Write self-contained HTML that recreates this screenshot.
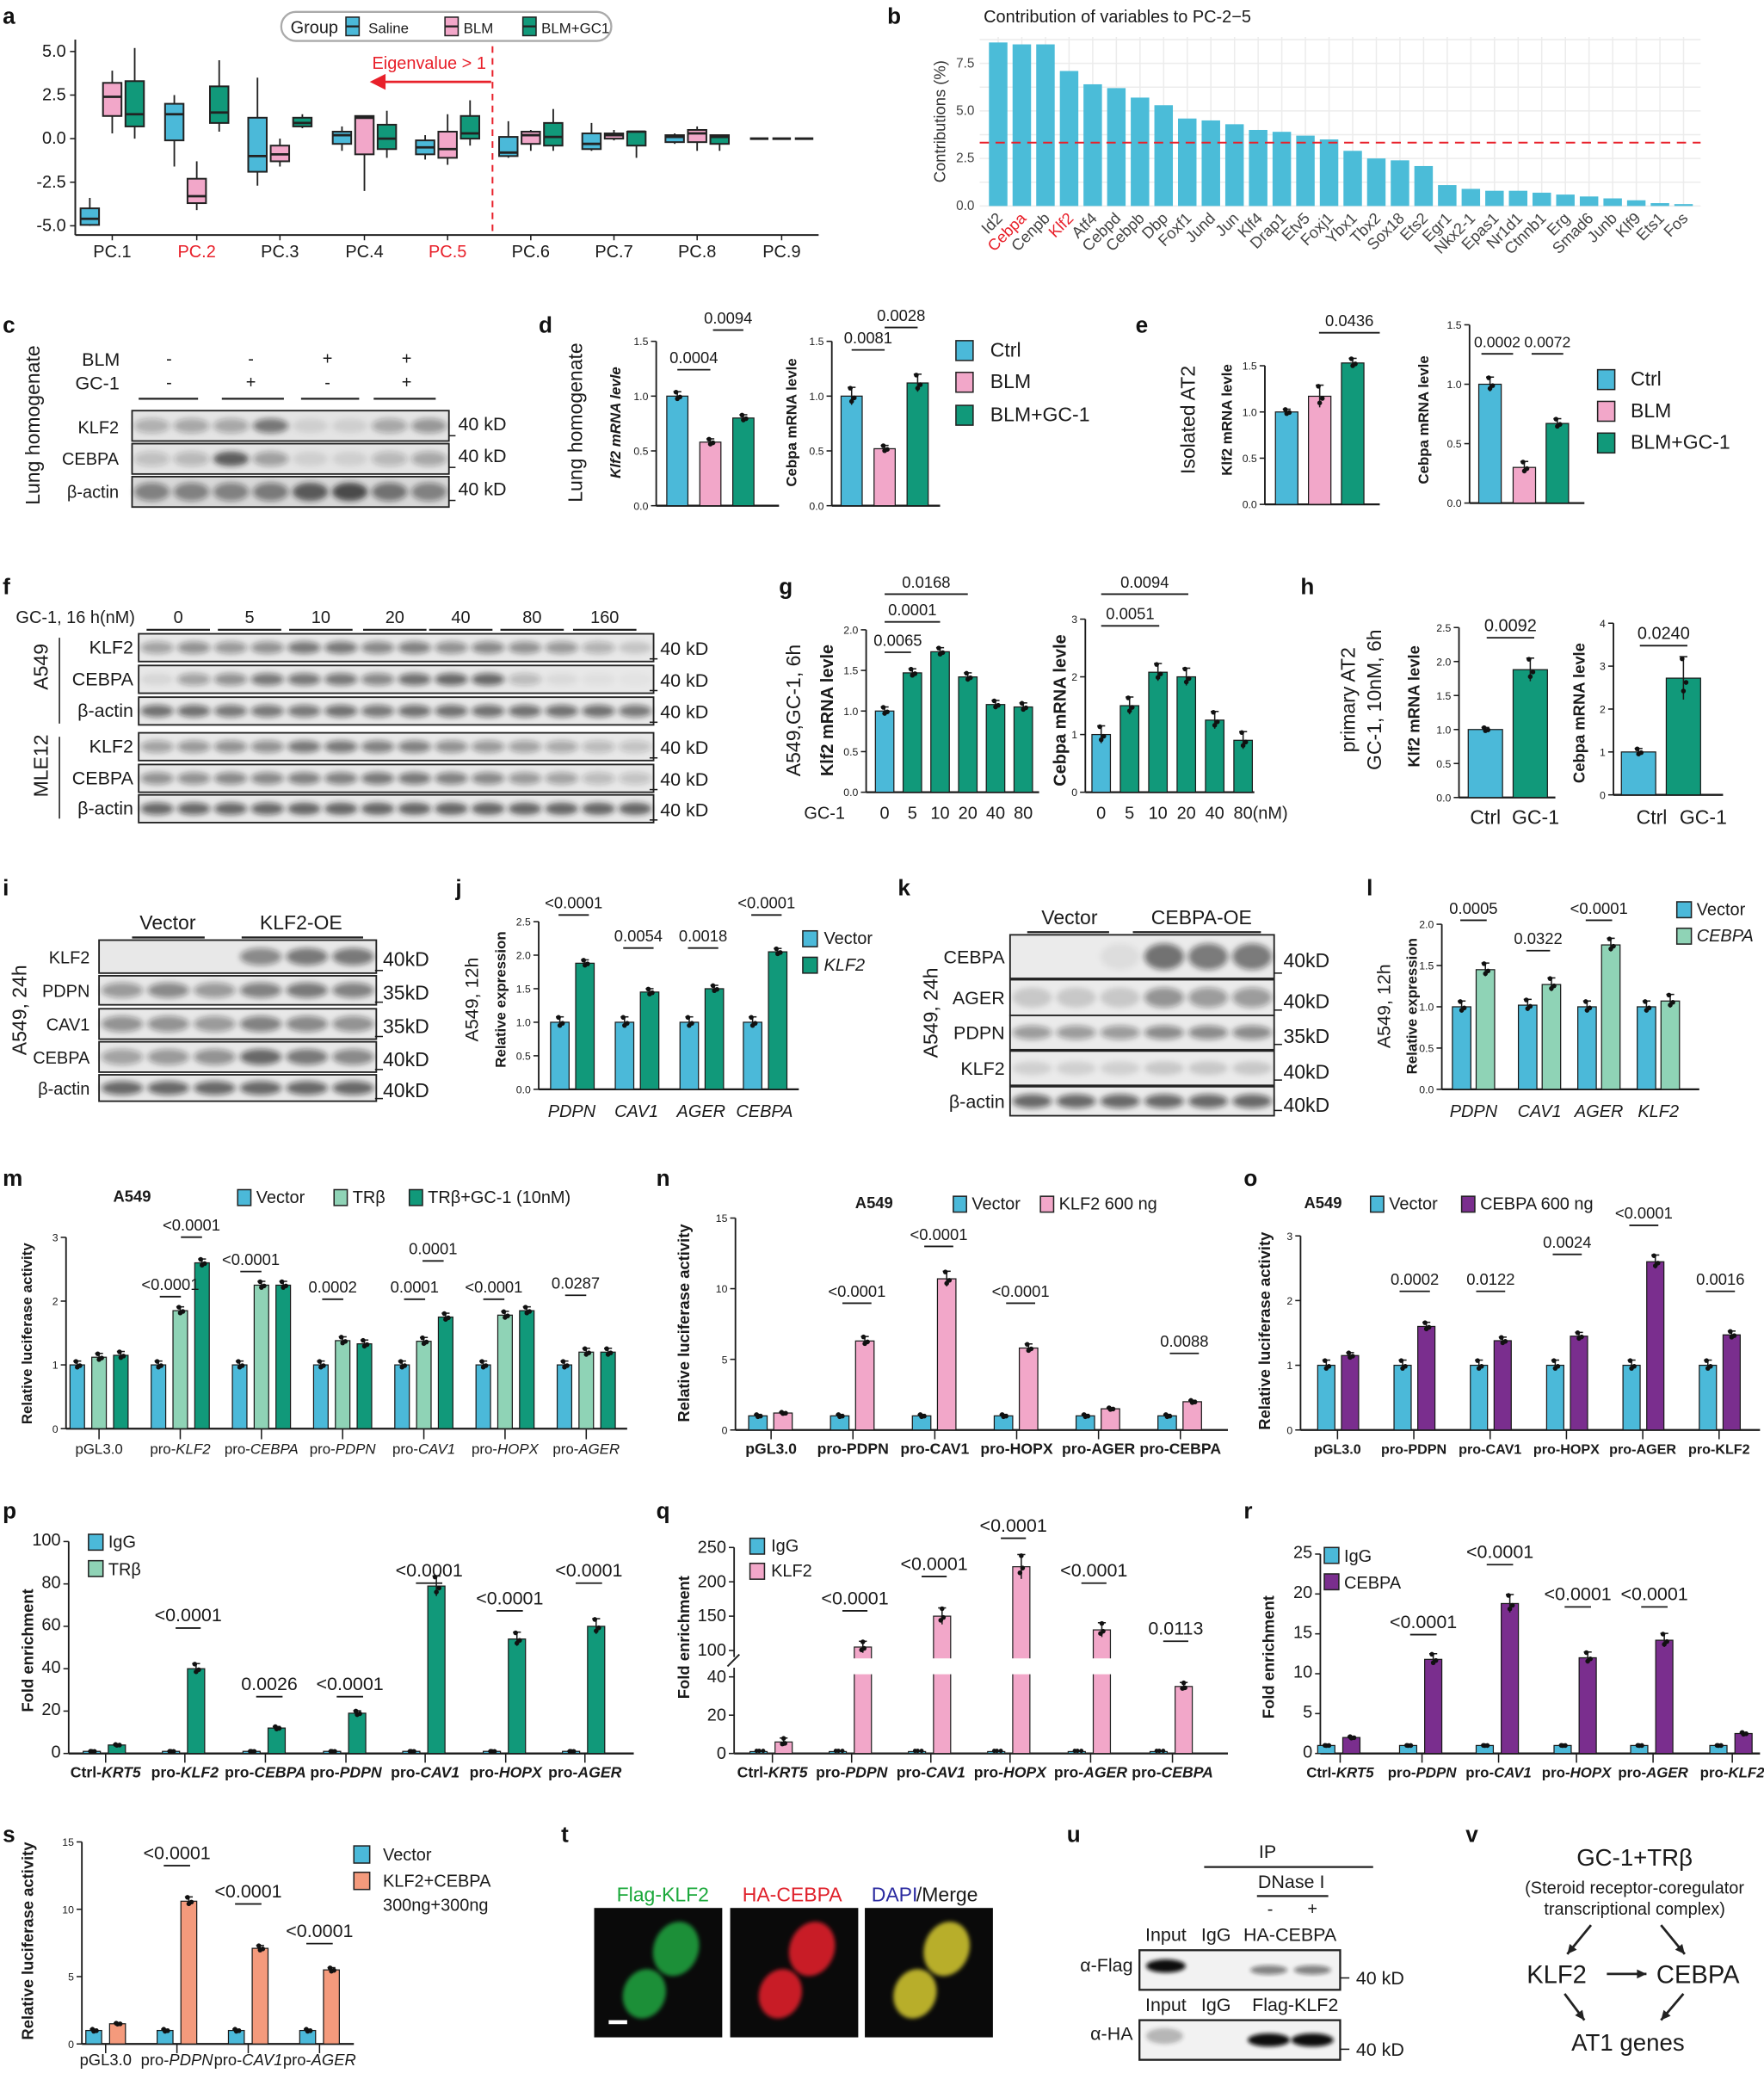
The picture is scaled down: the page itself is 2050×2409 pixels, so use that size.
<!DOCTYPE html>
<html><head><meta charset="utf-8"><style>
html,body{margin:0;padding:0;background:#fff;width:2050px;height:2409px;overflow:hidden}
svg{display:block;font-family:"Liberation Sans",Arial,sans-serif}
</style></head><body>
<svg id="s" width="2050" height="2409" viewBox="0 0 1336 1570" xmlns="http://www.w3.org/2000/svg">
<defs><filter id="bl" x="-30%" y="-60%" width="160%" height="220%"><feGaussianBlur stdDeviation="2"/></filter>
<filter id="bl2" x="-30%" y="-30%" width="160%" height="160%"><feGaussianBlur stdDeviation="1.5"/></filter></defs>
<rect width="1336" height="1570" fill="#fff"/>
<g font-weight="bold" font-size="17" fill="#111">
<text x="2" y="18">a</text><text x="672" y="18">b</text>
<text x="2" y="252">c</text><text x="408" y="252">d</text><text x="860" y="252">e</text>
<text x="2" y="450">f</text><text x="590" y="450">g</text><text x="985" y="450">h</text>
<text x="2" y="678">i</text><text x="345" y="678">j</text><text x="680" y="678">k</text><text x="1035" y="678">l</text>
<text x="2" y="898">m</text><text x="497" y="898">n</text><text x="942" y="898">o</text>
<text x="2" y="1150">p</text><text x="497" y="1150">q</text><text x="942" y="1150">r</text>
<text x="2" y="1395">s</text><text x="425" y="1395">t</text><text x="808" y="1395">u</text><text x="1110" y="1395">v</text>
</g>
</svg>
<script>
const NS='http://www.w3.org/2000/svg',S=document.getElementById('s');
function E(t,a,txt){const e=document.createElementNS(NS,t);for(const k in a)e.setAttribute(k,a[k]);if(txt!=null)e.textContent=txt;S.appendChild(e);return e;}
function T(x,y,s,o){o=o||{};const a={x:x,y:y,'font-size':o.fs||12,'text-anchor':o.a||'start',fill:o.c||'#1a1a1a'};if(o.i)a['font-style']='italic';if(o.b)a['font-weight']='bold';if(o.r)a.transform='rotate('+o.r+' '+x+' '+y+')';return E('text',a,s);}
function TI(x,y,s,o){const t=T(x,y,'',o);const p=s.split('-');const s1=document.createElementNS(NS,'tspan');s1.textContent=p[0]+(p.length>1?'-':'');t.appendChild(s1);if(p.length>1){const s2=document.createElementNS(NS,'tspan');s2.setAttribute('font-style','italic');s2.textContent=p.slice(1).join('-');t.appendChild(s2);}return t;}
function L(x1,y1,x2,y2,c,w,d){const a={x1:x1,y1:y1,x2:x2,y2:y2,stroke:c||'#1a1a1a','stroke-width':w||1};if(d)a['stroke-dasharray']=d;return E('line',a);}
function R(x,y,w,h,f,s,sw){return E('rect',{x:x,y:y,width:w,height:h,fill:f,stroke:s||'none','stroke-width':sw||1});}
function C(x,y,r,f){return E('circle',{cx:x,cy:y,r:r,fill:f||'#111'});}
function axis(x0,base,k,ticks,xEnd,fs){const top=base-ticks[ticks.length-1][0]*k;L(x0,top,x0,base,'#1a1a1a',1.2);L(x0,base,xEnd,base,'#1a1a1a',1.5);ticks.forEach(t=>{const y=base-t[0]*k;L(x0-4,y,x0,y);T(x0-6,y+3,t[1],{a:'end',fs:fs||8});});}
function bar(x,w,base,k,v,col,err){const y=base-v*k;R(x,y,w,v*k,col,'#1a1a1a',0.8);const e=(err==null?v*0.06:err)*k;L(x+w/2,y-e,x+w/2,y+e);L(x+w/2-3,y-e,x+w/2+3,y-e);const off=[[-2,-e*0.9],[0,e*0.6],[2,0.2*e]];off.forEach((o,i)=>C(x+w/2+o[0]*(i?1:0.5),y+o[1],1.8));}
function sig(x1,x2,y,s,fs){L(x1,y,x2,y,'#1a1a1a',1.2);T((x1+x2)/2,y-5,s,{a:'middle',fs:fs||12});}
function blot(x,y,w,h,ints,bg,ry){R(x,y,w,h,bg||'#e4e4e4','#222',1.2);const n=ints.length,lw=w/n;ints.forEach((v,i)=>{E('ellipse',{cx:x+lw*(i+.5),cy:y+h/2,rx:lw*0.45,ry:h*(ry||0.24),fill:'rgba(25,25,25,'+(v*0.75)+')',filter:'url(#bl)'});});}
const BL='#4bb9d9',PK='#f2a7c9',GR='#11997a',LG='#8fd3b6',PU='#7a2e8e',SA='#f49a7c',RD='#e8202a';

/* ---- a ---- */
L(57,30,57,178,'#222',1.3);L(57,178,620,178,'#222',1.3);
[[5,'5.0'],[2.5,'2.5'],[0,'0.0'],[-2.5,'-2.5'],[-5,'-5.0']].forEach(t=>{const y=105-t[0]*13.2;L(53,y,57,y);T(50,y+4,t[1],{a:'end',fs:13});});
const pcs=['PC.1','PC.2','PC.3','PC.4','PC.5','PC.6','PC.7','PC.8','PC.9'];
const ax=[85,149,212,276,339,402,465,528,592];
pcs.forEach((p,i)=>{L(ax[i],178,ax[i],182);T(ax[i],195,p,{a:'middle',fs:13,c:(i==1||i==4)?RD:'#1a1a1a'});});
const bx=[[[-4.95,-4.6,-4,-5,-3.4],[1.3,2.4,3.2,.3,3.9],[.7,1.4,3.3,0,5.2]],
[[-.1,1.4,2,-1.6,2.5],[-3.7,-3.3,-2.3,-4.1,-1.3],[.9,1.5,3,.4,4.5]],
[[-1.9,-1,1.2,-2.7,3.5],[-1.3,-.9,-.4,-1.6,0],[.7,.9,1.2,.6,1.4]],
[[-.3,.2,.4,-.7,.7],[-.9,1.2,1.3,-3,1.3],[-.6,0,.8,-1.1,1.6]],
[[-.9,-.5,-.1,-1.2,.2],[-1.1,-.6,.4,-1.5,1.4],[0,.3,1.3,-.4,2.2]],
[[-1,-.8,.1,-1.1,1],[-.3,.2,.4,-.7,.5],[-.4,.1,.9,-.7,1.7]],
[[-.6,-.3,.3,-.7,.9],[0,.2,.3,-.1,.5],[-.4,.4,.4,-1.1,.4]],
[[-.2,.1,.2,-.3,.3],[-.2,.3,.5,-.7,.7],[-.3,.1,.2,-.7,.2]]];
const bcol=[BL,PK,GR];
bx.forEach((g,i)=>g.forEach((b,j)=>{const cx=ax[i]+(j-1)*17,Y=v=>105-v*13.2;L(cx,Y(b[4]),cx,Y(b[3]),'#222',1.2);R(cx-7,Y(b[2]),14,Y(b[0])-Y(b[2]),bcol[j],'#222',1.3);L(cx-7,Y(b[1]),cx+7,Y(b[1]),'#222',1.8);}));
[-17,0,17].forEach(o=>L(592+o-7,105,592+o+7,105,'#222',2));
L(373,35,373,178,RD,1.3,'5,4');L(285,62,372,62,RD,1.8);E('path',{d:'M280 62 L292 56 L292 68 Z',fill:RD});
T(325,52,'Eigenvalue > 1',{a:'middle',fs:13,c:RD});
E('rect',{x:213,y:9,width:250,height:22,rx:11,fill:'#fff',stroke:'#aaa','stroke-width':1.5});
T(220,25,'Group',{fs:13});
[[262,BL,'Saline',279],[337,PK,'BLM',351],[396,GR,'BLM+GC1',410]].forEach(l=>{R(l[0],13,10,14,l[1],'#222',1);L(l[0],20,l[0]+10,20,'#222',1.5);T(l[3],25,l[2],{fs:11});});

/* ---- b ---- */
T(745,17,'Contribution of variables to PC-2−5',{fs:13});
const bn=['Id2','Cebpa','Cenpb','Klf2','Atf4','Cebpd','Cebpb','Dbp','Foxf1','Jund','Jun','Klf4','Drap1','Etv5','Foxj1','Ybx1','Tbx2','Sox18','Ets2','Egr1','Nkx2-1','Epas1','Nr1d1','Ctnnb1','Erg','Smad6','Junb','Klf9','Ets1','Fos'];
const bv=[8.6,8.5,8.5,7.1,6.4,6.2,5.7,5.3,4.6,4.5,4.3,4.0,3.9,3.7,3.5,2.9,2.5,2.4,2.1,1.1,.9,.8,.8,.7,.6,.5,.4,.3,.15,.1];
const bx0=756,bsp=17.9;
for(let y=30;y<158;y+=18)L(742,y,1288,y,'#ececec',1);
bn.forEach((n,i)=>{const cx=bx0+i*bsp;L(cx,28,cx,156,'#ececec',1);});
bn.forEach((n,i)=>{const cx=bx0+i*bsp;R(cx-7,156-bv[i]*14.4,14,bv[i]*14.4,'#4bbcd8');T(cx+4,166,n,{a:'end',fs:12,r:-45,c:(i==1||i==3)?RD:'#444'});});
L(742,108,1288,108,RD,1.3,'7,5');
[[0,'0.0'],[2.5,'2.5'],[5,'5.0'],[7.5,'7.5']].forEach(t=>{const y=156-t[0]*14.4;T(738,y+3,t[1],{a:'end',fs:10,c:'#444'});});
T(716,92,'Contributions (%)',{a:'middle',fs:12,r:-90,c:'#333'});

/* ---- c ---- */
T(62,277,'BLM',{fs:14});T(57,295,'GC-1',{fs:14});
['-','-','+','+'].forEach((s,i)=>T([128,190,248,308][i],276,s,{a:'middle',fs:13}));
['-','+','-','+'].forEach((s,i)=>T([128,190,248,308][i],294,s,{a:'middle',fs:13}));
[[105,150],[168,215],[228,272],[283,330]].forEach(s=>L(s[0],302,s[1],302,'#222',1.5));
blot(100,311,240,23,[.35,.4,.4,.7,.12,.12,.4,.5]);
blot(100,336,240,23,[.25,.3,.9,.45,.12,.12,.3,.4]);
blot(100,361,240,23,[.6,.6,.6,.65,.9,1,.7,.6],'#d8d8d8',.3);
[['KLF2',328],['CEBPA',352],['β-actin',377]].forEach(r=>T(90,r[1],r[0],{a:'end',fs:13}));
[326,350,375].forEach(y=>{T(347,y,'40 kD',{fs:14});L(340,y+4,345,y+4);});
T(30,322,'Lung homogenate',{a:'middle',fs:15,r:-90});

/* ---- d ---- */
T(441,320,'Lung homogenate',{a:'middle',fs:15,r:-90});
axis(497,383,83,[[0,'0.0'],[.5,'0.5'],[1,'1.0'],[1.5,'1.5']],590);
bar(505,16,383,83,1.0,BL,.04);bar(530,16,383,83,.58,PK,.03);bar(555,16,383,83,.8,GR,.03);
T(470,320,'Klf2 mRNA levle',{a:'middle',fs:11,r:-90,b:1,i:1});
sig(513,538,280,'0.0004');sig(540,563,250,'0.0094');
axis(630,383,83,[[0,'0.0'],[.5,'0.5'],[1,'1.0'],[1.5,'1.5']],712);
bar(637,16,383,83,1.0,BL,.08);bar(662,16,383,83,.52,PK,.03);bar(687,16,383,83,1.12,GR,.08);
T(603,320,'Cebpa mRNA levle',{a:'middle',fs:11,r:-90,b:1});
sig(645,670,265,'0.0081');sig(670,695,248,'0.0028');
[[BL,'Ctrl',268],[PK,'BLM',292],[GR,'BLM+GC-1',317]].forEach(l=>{R(724,l[2]-10,13,15,l[0],'#222');T(750,l[2]+2,l[1],{fs:15});});

/* ---- e ---- */
T(905,318,'Isolated AT2',{a:'middle',fs:15,r:-90});
axis(958,382,70,[[0,'0.0'],[.5,'0.5'],[1,'1.0'],[1.5,'1.5']],1045);
T(933,318,'Klf2 mRNA levle',{a:'middle',fs:11,r:-90,b:1});
bar(966,17,382,70,1.0,BL,.03);bar(991,17,382,70,1.17,PK,.12);bar(1016,17,382,70,1.53,GR,.05);
sig(999,1045,252,'0.0436');
axis(1113,381,90,[[0,'0.0'],[.5,'0.5'],[1,'1.0'],[1.5,'1.5']],1200);
T(1082,318,'Cebpa mRNA levle',{a:'middle',fs:11,r:-90,b:1});
bar(1120,17,381,90,1.0,BL,.06);bar(1146,17,381,90,.3,PK,.05);bar(1171,17,381,90,.67,GR,.04);
sig(1122,1146,268,'0.0002',11.5);sig(1160,1184,268,'0.0072',11.5);
[[BL,'Ctrl',290],[PK,'BLM',314],[GR,'BLM+GC-1',338]].forEach(l=>{R(1210,l[2]-10,13,15,l[0],'#222');T(1235,l[2]+2,l[1],{fs:15});});

/* ---- f ---- */
T(12,472,'GC-1, 16 h(nM)',{fs:13});
[['0',135],['5',189],['10',243],['20',299],['40',349],['80',403],['160',458]].forEach(c=>{T(c[1],472,c[0],{a:'middle',fs:13});L(c[1]-24,477,c[1]+24,477,'#222',1.5);});
const fr=[[480,[.45,.55,.5,.55,.7,.7,.6,.65,.55,.6,.55,.5,.35,.2],'KLF2'],[504,[.1,.45,.55,.7,.7,.7,.6,.75,.8,.8,.3,.08,.05,.03],'CEBPA'],[528,[.75,.75,.7,.7,.7,.75,.7,.75,.75,.75,.75,.75,.75,.7],'β-actin'],
[555,[.45,.5,.55,.55,.7,.7,.65,.65,.55,.5,.45,.4,.3,.25],'KLF2'],[579,[.55,.55,.6,.6,.65,.65,.7,.7,.65,.6,.5,.45,.3,.25],'CEBPA'],[602,[.8,.8,.8,.8,.85,.85,.85,.85,.85,.85,.85,.85,.85,.85],'β-actin']];
fr.forEach(r=>{blot(105,r[0],390,21,r[1],'#e8e8e8',.22);T(101,r[0]+15,r[2],{a:'end',fs:14});T(500,r[0]+16,'40 kD',{fs:14});L(492,r[0]+19,498,r[0]+19);});
T(36,505,'A549',{a:'middle',fs:15,r:-90});L(45,483,45,548);
T(36,580,'MLE12',{a:'middle',fs:15,r:-90});L(45,558,45,620);

/* ---- g ---- */
T(606,538,'A549,GC-1, 6h',{a:'middle',fs:15,r:-90});
T(631,538,'Klf2 mRNA levle',{a:'middle',fs:13,r:-90,b:1});
axis(656,600,61.5,[[0,'0.0'],[.5,'0.5'],[1,'1.0'],[1.5,'1.5'],[2,'2.0']],787);
[[1,BL],[1.47,GR],[1.73,GR],[1.42,GR],[1.08,GR],[1.05,GR]].forEach((b,i)=>bar(663+i*21,14,600,61.5,b[0],b[1],.05));
sig(670,690,494,'0.0065');sig(670,712,471,'0.0001');sig(670,733,450,'0.0168');
T(640,620,'GC-1',{a:'end',fs:13});['0','5','10','20','40','80'].forEach((t,i)=>T(670+i*21,620,t,{a:'middle',fs:13}));
T(807,538,'Cebpa mRNA levle',{a:'middle',fs:13,r:-90,b:1});
axis(822,600,43.7,[[0,'0'],[1,'1'],[2,'2'],[3,'3']],950);
[[1,BL],[1.5,GR],[2.08,GR],[2.0,GR],[1.25,GR],[.9,GR]].forEach((b,i)=>bar(827+i*21.5,14,600,43.7,b[0],b[1],.15));
sig(834,878,474,'0.0051');sig(834,900,450,'0.0094');
['0','5','10','20','40','80'].forEach((t,i)=>T(834+i*21.5,620,t,{a:'middle',fs:13}));T(962,620,'(nM)',{a:'middle',fs:13});

/* ---- h ---- */
T(1026,530,'primary AT2',{a:'middle',fs:15,r:-90});T(1046,530,'GC-1, 10nM, 6h',{a:'middle',fs:15,r:-90});
T(1075,535,'Klf2  mRNA levle',{a:'middle',fs:12,r:-90,b:1});
axis(1105,604,51.5,[[0,'0.0'],[.5,'0.5'],[1,'1.0'],[1.5,'1.5'],[2,'2.0'],[2.5,'2.5']],1178);
bar(1112,26,604,51.5,1.0,BL,.03);bar(1146,26,604,51.5,1.88,GR,.17);
sig(1126,1162,483,'0.0092',13);T(1125,624,'Ctrl',{a:'middle',fs:15});T(1163,624,'GC-1',{a:'middle',fs:15});
T(1200,540,'Cebpa mRNA levle',{a:'middle',fs:12,r:-90,b:1});
axis(1222,602,32.5,[[0,'0'],[1,'1'],[2,'2'],[3,'3'],[4,'4']],1305);
bar(1228,26,602,32.5,1.0,BL,.08);bar(1262,26,602,32.5,2.72,GR,.5);
sig(1242,1278,489,'0.0240',13);T(1251,624,'Ctrl',{a:'middle',fs:15});T(1290,624,'GC-1',{a:'middle',fs:15});

/* ---- i ---- */
T(127,704,'Vector',{a:'middle',fs:15});T(228,704,'KLF2-OE',{a:'middle',fs:15});L(100,710,155,710,'#222',1.5);L(183,710,275,710,'#222',1.5);
const ir=[[712,25,[0,0,0,.6,.7,.7],'KLF2','40kD'],[739,22,[.5,.6,.5,.65,.7,.65],'PDPN','35kD'],[764,23,[.55,.55,.5,.65,.6,.55],'CAV1','35kD'],[789,23,[.45,.5,.55,.8,.7,.6],'CEBPA','40kD'],[814,20,[.8,.8,.8,.8,.8,.8],'β-actin','40kD']];
ir.forEach(r=>{blot(75,r[0],210,r[1],r[2],'#e8e8e8',.26);T(68,r[0]+r[1]/2+5,r[3],{a:'end',fs:13});T(290,r[0]+r[1]/2+7,r[4],{fs:15});L(284,r[0]+r[1]-2,290,r[0]+r[1]-2);});
T(20,765,'A549, 24h',{a:'middle',fs:15,r:-90});

/* ---- j ---- */
T(362,757,'A549, 12h',{a:'middle',fs:14,r:-90});T(383,757,'Relative expression',{a:'middle',fs:11,r:-90,b:1});
axis(408,825,50.8,[[0,'0.0'],[.5,'0.5'],[1,'1.0'],[1.5,'1.5'],[2,'2.0'],[2.5,'2.5']],605);
[['PDPN',1,1.88,417],['CAV1',1,1.45,466],['AGER',1,1.5,515],['CEBPA',1,2.05,563]].forEach(g=>{bar(g[3],14,825,50.8,g[1],BL,.08);bar(g[3]+19,14,825,50.8,g[2],GR,.05);T(g[3]+16,846,g[0],{a:'middle',fs:13,i:1});});
sig(423,446,693,'<0.0001');sig(472,495,718,'0.0054');sig(521,544,718,'0.0018');sig(569,592,693,'<0.0001');
R(608,705,11,12,BL,'#222');T(624,715,'Vector',{fs:13});R(608,725,11,12,GR,'#222');T(624,735,'KLF2',{fs:13,i:1});

/* ---- k ---- */
T(810,700,'Vector',{a:'middle',fs:15});T(910,700,'CEBPA-OE',{a:'middle',fs:15});L(778,706,840,706,'#222',1.5);L(858,706,955,706,'#222',1.5);
const kr=[[708,33,[0,0,.08,.75,.7,.7],'CEBPA','40kD',.3],[742,27,[.2,.2,.2,.55,.5,.5],'AGER','40kD',.28],[769,26,[.5,.5,.5,.6,.6,.6],'PDPN','35kD',.2],[796,26,[.15,.15,.15,.2,.2,.2],'KLF2','40kD',.2],[823,22,[.8,.8,.8,.8,.8,.8],'β-actin','40kD',.24]];
kr.forEach(r=>{blot(765,r[0],200,r[1],r[2],'#ebebeb',r[5]);T(761,r[0]+r[1]/2+5,r[3],{a:'end',fs:14});T(972,r[0]+r[1]/2+8,r[4],{fs:15});L(965,r[0]+r[1]-4,971,r[0]+r[1]-4);});
T(710,767,'A549, 24h',{a:'middle',fs:15,r:-90});

/* ---- l ---- */
T(1053,762,'A549, 12h',{a:'middle',fs:14,r:-90});T(1073,762,'Relative expression',{a:'middle',fs:11,r:-90,b:1});
axis(1092,825,62.5,[[0,'0.0'],[.5,'0.5'],[1,'1.0'],[1.5,'1.5'],[2,'2.0']],1287);
[['PDPN',1,1.45,1100],['CAV1',1.02,1.27,1150],['AGER',1,1.75,1195],['KLF2',1,1.07,1240]].forEach(g=>{bar(g[3],14,825,62.5,g[1],BL,.07);bar(g[3]+18,14,825,62.5,g[2],LG,.08);T(g[3]+16,846,g[0],{a:'middle',fs:13,i:1});});
sig(1106,1126,697,'0.0005');sig(1156,1174,720,'0.0322');sig(1201,1221,697,'<0.0001');
R(1270,683,11,12,BL,'#222');T(1285,693,'Vector',{fs:13});R(1270,703,11,12,LG,'#222');T(1285,713,'CEBPA',{fs:13,i:1});

/* ---- m ---- */
T(100,910,'A549',{a:'middle',fs:12,b:1});
[[180,BL,'Vector'],[253,LG,'TRβ'],[310,GR,'TRβ+GC-1 (10nM)']].forEach(l=>{R(l[0],901,10,12,l[1],'#222');T(l[0]+14,911,l[2],{fs:13});});
T(24,1010,'Relative luciferase activity',{a:'middle',fs:11,r:-90,b:1});
axis(50,1082,48.3,[[0,'0'],[1,'1'],[2,'2'],[3,'3']],475);
const mg=[['pGL3.0',[1,1.12,1.15]],['pro-KLF2',[1,1.85,2.6]],['pro-CEBPA',[1,2.25,2.25]],['pro-PDPN',[1,1.38,1.33]],['pro-CAV1',[1,1.37,1.75]],['pro-HOPX',[1,1.78,1.85]],['pro-AGER',[1,1.2,1.2]]];
mg.forEach((g,i)=>{const c=75+i*61.5;g[1].forEach((v,j)=>bar(c-22+j*16.5,11,1082,48.3,v,[BL,LG,GR][j],.06));L(c,1082,c,1090);TI(c,1101,g[0],{a:'middle',fs:11});});
sig(121,137,982,'<0.0001');sig(137,153,937,'<0.0001');sig(182,198,963,'<0.0001');sig(244,260,984,'0.0002');sig(306,322,984,'0.0001');sig(320,336,955,'0.0001');sig(366,382,984,'<0.0001');sig(428,444,981,'0.0287');

/* ---- n ---- */
T(662,915,'A549',{a:'middle',fs:12,b:1});
[[722,BL,'Vector'],[788,PK,'KLF2 600 ng']].forEach(l=>{R(l[0],906,10,12,l[1],'#222');T(l[0]+14,916,l[2],{fs:13});});
T(522,1002,'Relative luciferase activity',{a:'middle',fs:12,r:-90,b:1});
axis(557,1083,10.7,[[0,'0'],[5,'5'],[10,'10'],[15,'15']],930);
[['pGL3.0',1,1.2],['pro-PDPN',1,6.3],['pro-CAV1',1,10.7],['pro-HOPX',1,5.8],['pro-AGER',1,1.5],['pro-CEBPA',1,2]].forEach((g,i)=>{const c=584+i*62;bar(c-17,14,1083,10.7,g[1],BL,.1);bar(c+2,14,1083,10.7,g[2],PK,g[2]*.05);L(c,1083,c,1090);T(c,1101,g[0],{a:'middle',fs:11.5,b:1});});
sig(638,660,987,'<0.0001');sig(700,722,944,'<0.0001');sig(762,784,987,'<0.0001');sig(886,908,1025,'0.0088');

/* ---- o ---- */
T(1002,915,'A549',{a:'middle',fs:12,b:1});
[[1038,BL,'Vector'],[1107,PU,'CEBPA 600 ng']].forEach(l=>{R(l[0],906,10,12,l[1],'#222');T(l[0]+14,916,l[2],{fs:13});});
T(962,1008,'Relative luciferase activity',{a:'middle',fs:12,r:-90,b:1});
axis(985,1083,49,[[0,'0'],[1,'1'],[2,'2'],[3,'3']],1333);
[['pGL3.0',1,1.15],['pro-PDPN',1,1.6],['pro-CAV1',1,1.38],['pro-HOPX',1,1.45],['pro-AGER',1,2.6],['pro-KLF2',1,1.47]].forEach((g,i)=>{const c=1013+i*57.8;bar(c-15,13,1083,49,g[1],BL,.08);bar(c+3,13,1083,49,g[2],PU,g[2]*.04);L(c,1083,c,1090);T(c,1101,g[0],{a:'middle',fs:10.5,b:1});});
sig(1060,1083,978,'0.0002');sig(1118,1140,978,'0.0122');sig(1176,1198,950,'0.0024');sig(1234,1256,928,'<0.0001');sig(1292,1314,978,'0.0016');

/* ---- p,q,r ---- */
function chip(x0,base,k,ticks,xEnd,cats,vals,col,centers,sigs,fs){
 axis(x0,base,k,ticks,xEnd,13);
 cats.forEach((c,i)=>{const cc=centers[i];bar(cc-17,13,base,k,vals[i][0],BL,.02);bar(cc+2,13,base,k,vals[i][1],col,vals[i][1]*.06);L(cc,base,cc,base+7);TI(cc,base+18,c,{a:'middle',fs:fs||12,b:1});});
 sigs.forEach(s=>sig(s[0],s[1],s[2],s[3],14));
}
chip(52,1328,1.605,[[0,'0'],[20,'20'],[40,'40'],[60,'60'],[80,'80'],[100,'100']],480,['Ctrl-KRT5','pro-KLF2','pro-CEBPA','pro-PDPN','pro-CAV1','pro-HOPX','pro-AGER'],[[1,4],[1,40],[1,12],[1,19],[1,79],[1,54],[1,60]],GR,[80,140,201,262,322,383,443],[[133,152,1233,'<0.0001'],[194,214,1285,'0.0026'],[255,275,1285,'<0.0001'],[315,335,1199,'<0.0001'],[376,396,1220,'<0.0001'],[436,456,1199,'<0.0001']],11.5);
T(25,1250,'Fold enrichment',{a:'middle',fs:12,r:-90,b:1});
R(67,1162,11,12,BL,'#222');T(82,1172,'IgG',{fs:13});R(67,1182,11,12,LG,'#222');T(82,1193,'TRβ',{fs:13});
(function(){const x0=556,b=1328;L(x0,1172,x0,1255,'#222',1.2);L(x0,1263,x0,b,'#222',1.2);L(x0,b,930,b,'#222',1.5);
 [[0,'0',b],[20,'20',1299],[40,'40',1270],[100,'100',1250],[150,'150',1224],[200,'200',1198],[250,'250',1172]].forEach(t=>{L(x0-4,t[2],x0,t[2]);T(x0-6,t[2]+4,t[1],{a:'end',fs:13});});
 L(x0-5,1262,x0+4,1253,'#222',1.3);
 const Y=v=>v<=40?b-v*1.45:1250-(v-100)*0.52;
 const qv=[[1,6],[1,105],[1,150],[1,222],[1,130],[1,35]],qc=[585,645,705,765,826,888],qn=['Ctrl-KRT5','pro-PDPN','pro-CAV1','pro-HOPX','pro-AGER','pro-CEBPA'];
 qv.forEach((v,i)=>{const c=qc[i];R(c-17,Y(v[0]),13,b-Y(v[0]),BL,'#222',.8);R(c+2,Y(v[1]),13,b-Y(v[1]),PK,'#222',.8);if(v[1]>40)R(c+1,1256,15,12,'#fff');
  const y=Y(v[1]),e=v[1]>40?v[1]*.08*.52:3;L(c+8.5,y-e,c+8.5,y+e);L(c+5.5,y-e,c+11.5,y-e);C(c+8.5,y-e*.9,1.8);C(c+7.5,y+e*.5,1.8);C(c+9.5,y+1,1.8);C(c-12,b-2,1.6);C(c-10,b-2,1.6);C(c-7,b-2,1.6);
  L(c,b,c,b+7);TI(c,1346,qn[i],{a:'middle',fs:11.5,b:1});});
 [[638,657,1220,'<0.0001'],[698,717,1194,'<0.0001'],[758,777,1165,'<0.0001'],[819,838,1199,'<0.0001'],[881,900,1243,'0.0113']].forEach(s=>sig(s[0],s[1],s[2],s[3],14));
})();
T(522,1240,'Fold enrichment',{a:'middle',fs:12,r:-90,b:1});
R(568,1165,11,12,BL,'#222');T(584,1175,'IgG',{fs:13});R(568,1184,11,12,PK,'#222');T(584,1194,'KLF2',{fs:13});
chip(1000,1328,6.04,[[0,'0'],[5,'5'],[10,'10'],[15,'15'],[20,'20'],[25,'25']],1333,['Ctrl-KRT5','pro-PDPN','pro-CAV1','pro-HOPX','pro-AGER','pro-KLF2'],[[1,2],[1,11.8],[1,18.8],[1,12],[1,14.2],[1,2.5]],PU,[1015,1077,1135,1194,1252,1312],[[1068,1088,1238,'<0.0001'],[1126,1146,1185,'<0.0001'],[1185,1205,1217,'<0.0001'],[1243,1263,1217,'<0.0001']],11);
T(965,1255,'Fold enrichment',{a:'middle',fs:12,r:-90,b:1});
R(1003,1172,11,12,BL,'#222');T(1018,1183,'IgG',{fs:13});R(1003,1192,11,12,PU,'#222');T(1018,1203,'CEBPA',{fs:13});

/* ---- s ---- */
T(25,1470,'Relative luciferase activity',{a:'middle',fs:12,r:-90,b:1});
axis(62,1548,10.2,[[0,'0'],[5,'5'],[10,'10'],[15,'15']],268);
[['pGL3.0',1,1.5],['pro-PDPN',1,10.6],['pro-CAV1',1,7.1],['pro-AGER',1,5.5]].forEach((g,i)=>{const c=80+i*54;bar(c-15,12,1548,10.2,g[1],BL,.1);bar(c+3,12,1548,10.2,g[2],SA,g[2]*.03);L(c,1548,c,1555);TI(c,1564,g[0],{a:'middle',fs:12});});
sig(124,144,1413,'<0.0001',14);sig(178,198,1442,'<0.0001',14);sig(232,252,1472,'<0.0001',14);
R(268,1398,12,13,BL,'#222');T(290,1409,'Vector',{fs:13});R(268,1418,12,13,SA,'#222');T(290,1429,'KLF2+CEBPA',{fs:13});T(290,1447,'300ng+300ng',{fs:13});

/* ---- t ---- */
T(502,1440,'Flag-KLF2',{a:'middle',fs:15,c:'#1aa83a'});T(600,1440,'HA-CEBPA',{a:'middle',fs:15,c:'#e0202a'});
T(660,1440,'DAPI',{fs:15,c:'#2a2aa0'});T(694,1440,'/Merge',{fs:15});
[[450,'#1a8f38'],[553,'#c81a28'],[655,'#b8ae2a']].forEach(p=>{R(p[0],1445,97,98,'#0a0a0a');E('ellipse',{cx:p[0]+62,cy:1476,rx:17,ry:21,fill:p[1],filter:'url(#bl2)',transform:'rotate(20 '+(p[0]+62)+' 1476)'});E('ellipse',{cx:p[0]+38,cy:1510,rx:16,ry:19,fill:p[1],filter:'url(#bl2)',transform:'rotate(20 '+(p[0]+38)+' 1510)'});});
R(461,1530,14,3,'#fff');

/* ---- u ---- */
T(960,1407,'IP',{a:'middle',fs:14});L(912,1414,1040,1414,'#222',1.5);
T(978,1430,'DNase I',{a:'middle',fs:14});L(952,1436,1006,1436,'#222',1.5);T(962,1450,'-',{a:'middle',fs:13});T(994,1450,'+',{a:'middle',fs:13});
T(883,1470,'Input',{a:'middle',fs:14});T(921,1470,'IgG',{a:'middle',fs:14});T(977,1470,'HA-CEBPA',{a:'middle',fs:14});
R(863,1477,152,30,'#f2f2f2','#222',1.5);E('ellipse',{cx:883,cy:1489,rx:15,ry:5,fill:'#111',filter:'url(#bl2)'});E('ellipse',{cx:961,cy:1492,rx:14,ry:3.5,fill:'rgba(20,20,20,.5)',filter:'url(#bl2)'});E('ellipse',{cx:994,cy:1492,rx:14,ry:3.5,fill:'rgba(20,20,20,.5)',filter:'url(#bl2)'});
T(858,1493,'α-Flag',{a:'end',fs:14});T(1027,1503,'40 kD',{fs:14});L(1015,1498,1022,1498);
T(883,1523,'Input',{a:'middle',fs:14});T(921,1523,'IgG',{a:'middle',fs:14});T(981,1523,'Flag-KLF2',{a:'middle',fs:14});
R(863,1530,152,30,'#f2f2f2','#222',1.5);E('ellipse',{cx:882,cy:1542,rx:14,ry:6,fill:'rgba(40,40,40,.3)',filter:'url(#bl2)'});E('ellipse',{cx:961,cy:1545,rx:16,ry:5,fill:'#111',filter:'url(#bl2)'});E('ellipse',{cx:994,cy:1545,rx:16,ry:5,fill:'#111',filter:'url(#bl2)'});
T(858,1545,'α-HA',{a:'end',fs:14});T(1027,1557,'40 kD',{fs:14});L(1015,1552,1022,1552);

/* ---- v ---- */
T(1238,1413,'GC-1+TRβ',{a:'middle',fs:18});
T(1238,1434,'(Steroid receptor-coregulator',{a:'middle',fs:13});T(1238,1450,'transcriptional complex)',{a:'middle',fs:13});
T(1179,1502,'KLF2',{a:'middle',fs:19});T(1286,1502,'CEBPA',{a:'middle',fs:19});T(1233,1553,'AT1 genes',{a:'middle',fs:18});
function arr(x1,y1,x2,y2){L(x1,y1,x2,y2,'#222',1.8);const a=Math.atan2(y2-y1,x2-x1),h=8;E('path',{d:'M'+x2+' '+y2+' L'+(x2-h*Math.cos(a-.45))+' '+(y2-h*Math.sin(a-.45))+' L'+(x2-h*Math.cos(a+.45))+' '+(y2-h*Math.sin(a+.45))+'Z',fill:'#222'});}
arr(1205,1458,1187,1480);arr(1258,1458,1276,1480);arr(1217,1495,1247,1495);arr(1185,1510,1200,1530);arr(1275,1510,1258,1530);
</script>
</body></html>
